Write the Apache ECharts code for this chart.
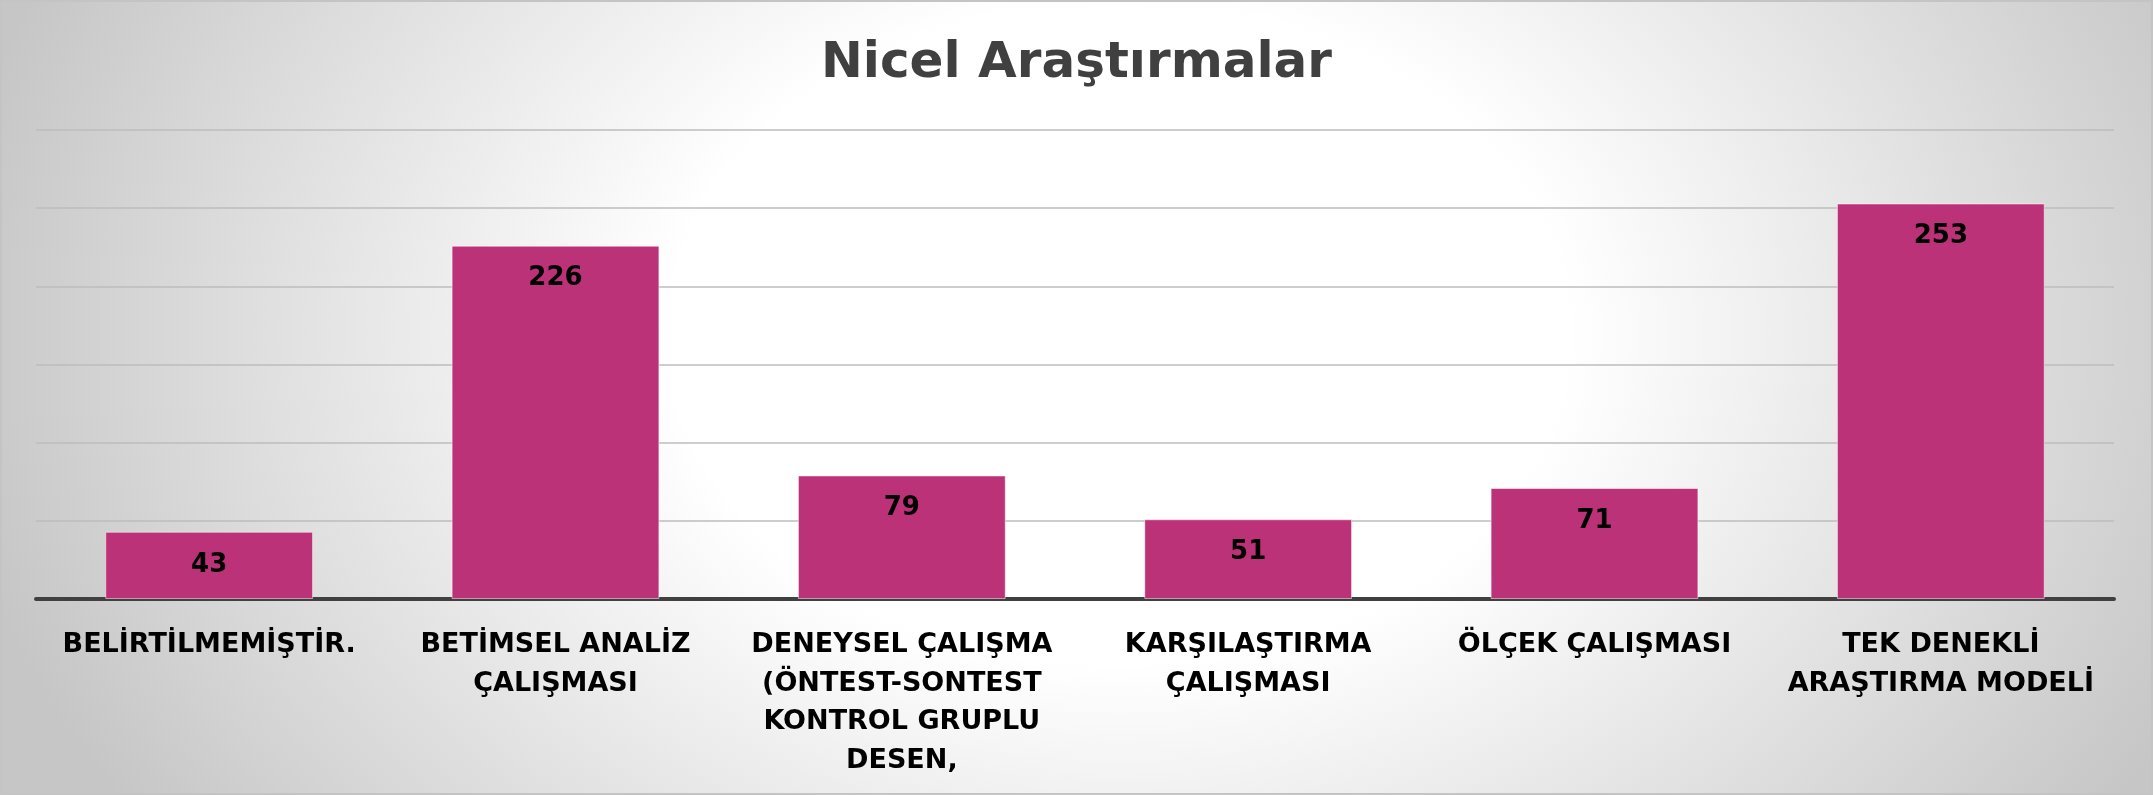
<!DOCTYPE html>
<html>
<head>
<meta charset="utf-8">
<title>Nicel Araştırmalar</title>
<script src="https://cdn.jsdelivr.net/npm/echarts@6/dist/echarts.min.js"></script>
<style>
  html, body { margin: 0; padding: 0; }
  #chart {
    width: 2153px;
    height: 795px;
    box-sizing: border-box;
    border: 2px solid #c4c4c4;
    background: radial-gradient(ellipse 55% 110% at 52% 42%, #ffffff 38%, #c6c6c6 100%);
  }
</style>
</head>
<body>
<div id="chart"></div>
<script>
// kategori adları (satır kırılımları görseldeki gibi)
const categories = [
  'BELİRTİLMEMİŞTİR.',
  'BETİMSEL ANALİZ\nÇALIŞMASI',
  'DENEYSEL ÇALIŞMA\n(ÖNTEST-SONTEST\nKONTROL GRUPLU\nDESEN,',
  'KARŞILAŞTIRMA\nÇALIŞMASI',
  'ÖLÇEK ÇALIŞMASI',
  'TEK DENEKLİ\nARAŞTIRMA MODELİ'
];
const counts = [43, 226, 79, 51, 71, 253];

const chart = echarts.init(document.getElementById('chart'));

chart.setOption({
  backgroundColor: 'transparent',
  title: {
    text: 'Nicel Araştırmalar',
    left: 'center',
    top: 32,
    textStyle: {
      fontFamily: 'DejaVu Sans',
      fontWeight: 'bold',
      fontSize: 50,
      color: '#404040'
    }
  },
  grid: {
    left: 34,
    right: 37,
    top: 128,
    bottom: 194
  },
  xAxis: {
    type: 'category',
    data: categories,
    axisLine: { lineStyle: { color: '#404040', width: 4 } },
    axisTick: { show: false },
    axisLabel: {
      interval: 0,
      margin: 27,
      fontFamily: 'DejaVu Sans',
      fontWeight: 'bold',
      fontSize: 27,
      lineHeight: 38.5,
      color: '#000'
    }
  },
  yAxis: {
    type: 'value',
    min: 0,
    max: 300,
    interval: 50,
    axisLabel: { show: false },
    axisLine: { show: false },
    axisTick: { show: false },
    splitLine: { lineStyle: { color: '#bdbdbd', width: 1.5 } }
  },
  series: [
    {
      type: 'bar',
      data: counts,
      barCategoryGap: '40%',
      itemStyle: {
        color: '#bc3279',
        borderColor: 'rgba(255,255,255,0.5)',
        borderWidth: 1
      },
      label: {
        show: true,
        position: 'insideTop',
        distance: 20,
        fontFamily: 'DejaVu Sans',
        fontWeight: 'bold',
        fontSize: 26,
        color: '#000'
      }
    }
  ]
});
</script>
</body>
</html>
